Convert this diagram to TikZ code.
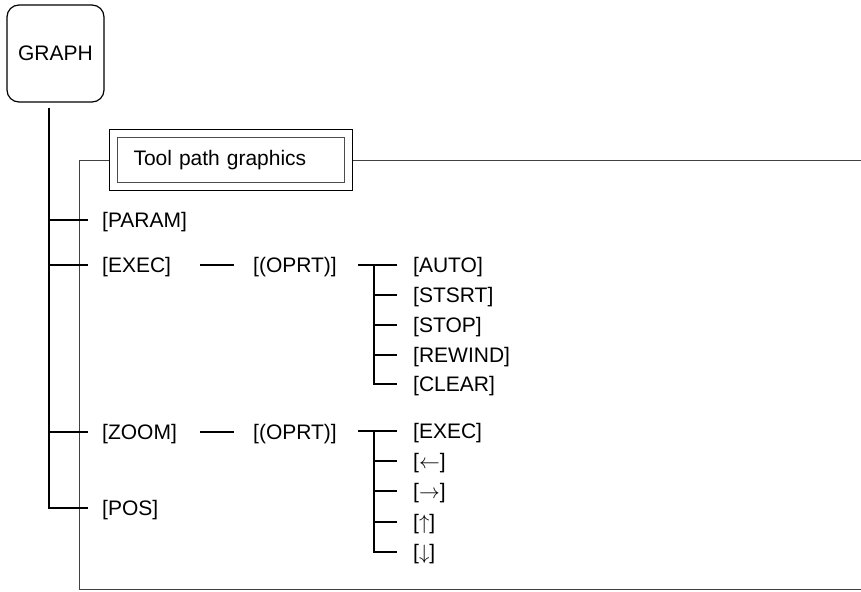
\documentclass[tikz,border=0pt]{standalone}
\usepackage{fontspec}
\setmainfont{Liberation Sans}
\usetikzlibrary{positioning, fit, calc}

\begin{document}
\begin{tikzpicture}[
    x=1pt, y=-1pt,
    every node/.style={font=\fontsize{21}{25}\selectfont},
    key/.style={rectangle, draw, line width=1.2pt, rounded corners=12pt, minimum width=97pt, minimum height=97pt},
    soft/.style={anchor=west, inner sep=0pt, text height=15pt, text depth=0pt},
    tree/.style={line width=1.2pt},
    frame/.style={line width=0.9pt, black!75},
    titlebox/.style={rectangle, draw=black!70, line width=1pt, anchor=west, minimum height=45pt, text width=195pt, inner xsep=16pt, align=left},
    titleframe/.style={rectangle, draw, line width=1.5pt, inner sep=7.5pt}
]
\useasboundingbox (0,0) rectangle (861,591);

\node (graph) [key] at (55.5,53.5) {GRAPH};
\coordinate (trunk) at ([xshift=-6.5pt, yshift=-5pt]graph.south);

% tool path graphics frame
\node (tpg) [titlebox] at (117,160) {Tool path graphics};
\node (tpgbox) [titleframe, fit=(tpg)] {};
\coordinate (frbot) at (79,589);
\coordinate (frend) at (861,589);
\draw [frame] (tpgbox.west) -| (frbot) -- (frend);
\draw [frame] (tpgbox.east) -- (tpgbox.east -| frend);

% soft keys
\node (param) [soft] at (102,220) {[PARAM]};
\node (exec) [soft] at (102,265) {[EXEC]};
\node (zoom) [soft] at (102,432) {[ZOOM]};
\node (pos) [soft] at (102,508) {[POS]};
\node (oprta) [soft] at (253,265) {[(OPRT)]};
\node (oprtb) [soft] at (253,432) {[(OPRT)]};

\node (auto) [soft] at (413,265) {[AUTO]};
\node (stsrt) [soft, below=30pt of auto.west, anchor=west] {[STSRT]};
\node (stop) [soft, below=30pt of stsrt.west, anchor=west] {[STOP]};
\node (rewind) [soft, below=30pt of stop.west, anchor=west] {[REWIND]};
\node (clear) [soft, below=29pt of rewind.west, anchor=west] {[CLEAR]};

\node (zexec) [soft] at (413,431) {[EXEC]};
\node (zleft) [soft, below=30pt of zexec.west, anchor=west] {[$\leftarrow$]};
\node (zright) [soft, below=30pt of zleft.west, anchor=west] {[$\rightarrow$]};
\node (zup) [soft, below=31pt of zright.west, anchor=west] {[$\uparrow$]};
\node (zdown) [soft, below=30pt of zup.west, anchor=west] {[$\downarrow$]};

% main tree
\draw [tree] (trunk) |- ([xshift=-14pt]pos.west);
\foreach \n in {param, exec, zoom}
    \draw [tree] (trunk |- \n.west) -- ([xshift=-14pt]\n.west);

\draw [tree] ([xshift=-53pt]oprta.west) -- ([xshift=-19pt]oprta.west);
\draw [tree] ([xshift=-53pt]oprtb.west) -- ([xshift=-19pt]oprtb.west);

% sub trees
\draw [tree] ([xshift=-55pt]auto.west) -- ([xshift=-16pt]auto.west);
\draw [tree] ([xshift=-39pt]auto.west) |- ([xshift=-16pt]clear.west);
\foreach \n in {stsrt, stop, rewind}
    \draw [tree] ([xshift=-39pt]\n.west) -- ([xshift=-16pt]\n.west);

\draw [tree] ([xshift=-55pt]zexec.west) -- ([xshift=-16pt]zexec.west);
\draw [tree] ([xshift=-39pt]zexec.west) |- ([xshift=-16pt]zdown.west);
\foreach \n in {zleft, zright, zup}
    \draw [tree] ([xshift=-39pt]\n.west) -- ([xshift=-16pt]\n.west);
\end{tikzpicture}
\end{document}
